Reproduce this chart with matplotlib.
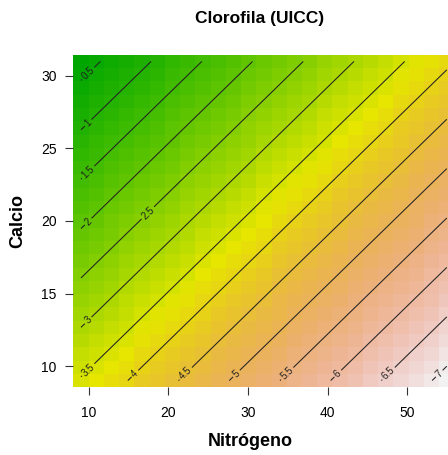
import colorsys
import numpy as np
import matplotlib
matplotlib.use("Agg")
import matplotlib.pyplot as plt
from matplotlib.colors import ListedColormap

# fitted surface: Clorofila = a + b*Nitrogeno + c*Calcio
intercept = 4.154
coef_nitrogeno = 0.0784
coef_calcio = -0.1468

nitrogeno_range = (9, 55)
calcio_range = (9, 31)
grid_points = 25

levels = [0.5, 1, 1.5, 2, 2.5, 3, 3.5, 4, 4.5, 5, 5.5, 6, 6.5, 7]
# R put the 2.5 label mid-line instead of at the start
label_nitrogeno = {2.5: 17.4}
x_ticks = [10, 20, 30, 40, 50]
y_ticks = [10, 15, 20, 25, 30]


def terrain_colors(n):
    # same as R's terrain.colors(n)
    k = n // 2
    h = np.linspace(4 / 12, 2 / 12, k)
    s = np.linspace(1, 1, k)
    v = np.linspace(0.65, 0.9, k)
    h2 = np.linspace(2 / 12, 0, n - k + 1)[1:]
    s2 = np.linspace(1, 0, n - k + 1)[1:]
    v2 = np.linspace(0.9, 0.95, n - k + 1)[1:]
    hh = np.concatenate([h, h2])
    ss = np.concatenate([s, s2])
    vv = np.concatenate([v, v2])
    return [colorsys.hsv_to_rgb(a, b, c) for a, b, c in zip(hh, ss, vv)]


plt.rcParams['font.family'] = ['Liberation Sans', 'DejaVu Sans']

nit = np.linspace(*nitrogeno_range, grid_points)
cal = np.linspace(*calcio_range, grid_points)
N, CA = np.meshgrid(nit, cal)
Z = intercept + coef_nitrogeno * N + coef_calcio * CA

fig = plt.figure(figsize=(4.48, 4.55), dpi=100)
ax = fig.add_axes([73.4 / 448, 1 - 387.2 / 455, (454.4 - 73.4) / 448, (387.2 - 54.8) / 455])

cmap = ListedColormap(terrain_colors(100))
ax.pcolormesh(N, CA, Z, shading='nearest', cmap=cmap, vmin=Z.min(), vmax=Z.max())

cs = ax.contour(N, CA, Z, levels=levels, colors='#222222', linewidths=0.75)

# label each line near its lower-left end, like R's contour()
dn = nit[1] - nit[0]
slope = coef_nitrogeno / -coef_calcio
pos = []
for lv in levels:
    if lv in label_nitrogeno:
        n0 = label_nitrogeno[lv]
        pos.append((n0, (lv - intercept - coef_nitrogeno * n0) / coef_calcio))
        continue
    ca0 = (lv - intercept - coef_nitrogeno * nit[0]) / coef_calcio
    if ca0 >= cal[0]:
        n0 = nit[0]
    else:
        ca0 = cal[0]
        n0 = (lv - intercept - coef_calcio * ca0) / coef_nitrogeno
    step = 0.9
    pos.append((n0 + step, ca0 + step * slope))
ax.clabel(cs, levels, inline=True, fontsize=7, manual=pos,
          fmt=lambda v: f"{v:g}", inline_spacing=2)

ax.set_xlim(nit[0] - dn / 2, nit[-1] + dn / 2)
ax.set_ylim(cal[0] - (cal[1] - cal[0]) / 2, cal[-1] + (cal[1] - cal[0]) / 2)
ax.set_xticks(x_ticks)
ax.set_yticks(y_ticks)
ax.tick_params(axis='x', length=5.5, pad=8, labelsize=10, color='#333333')
ax.tick_params(axis='y', length=6, pad=6, labelsize=10, color='#333333')
for sp in ax.spines.values():
    sp.set_visible(False)

fig.text(260 / 448, 1 - 18 / 455, "Clorofila (UICC)", ha='center', va='center',
         fontsize=12.5, fontweight='bold')
fig.text(250 / 448, 1 - 442 / 455, "Nitrógeno", ha='center', va='center',
         fontsize=13, fontweight='bold')
fig.text(18 / 448, 1 - 220.5 / 455, "Calcio", ha='center', va='center',
         rotation=90, fontsize=13, fontweight='bold')

fig.savefig("out.png", dpi=100)
